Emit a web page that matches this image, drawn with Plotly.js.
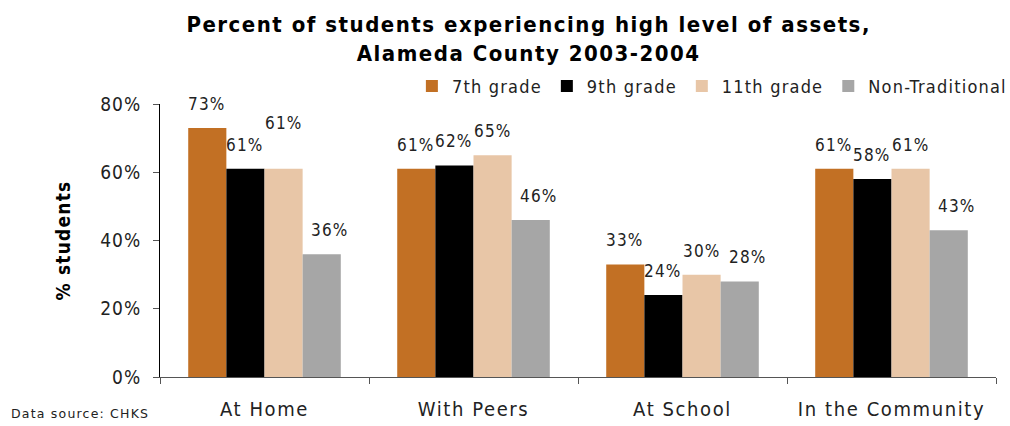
<!DOCTYPE html>
<html>
<head>
<meta charset="utf-8">
<script src="https://cdn.plot.ly/plotly-3.0.1.min.js"></script>
<style>
html,body{margin:0;padding:0;background:#fff;}
#chart{width:1010px;height:426px;}
text.gtitle{letter-spacing:1.5px;}
g.xtick text{letter-spacing:1.6px;}
g.ytick text{letter-spacing:1px;}
text.ytitle{letter-spacing:1.2px;}
text.legendtext{letter-spacing:1.2px;}
text.annotation-text{letter-spacing:1.2px;}
</style>
</head>
<body>
<div id="chart"></div>
<script>
const categories = ["At Home", "With Peers", "At School", "In the Community"];
const seriesNames = ["7th grade", "9th grade", "11th grade", "Non-Traditional"];
const grade7 = [0.73, 0.61, 0.33, 0.61];
const grade9 = [0.61, 0.62, 0.24, 0.58];
const grade11 = [0.61, 0.65, 0.30, 0.61];
const nonTrad = [0.36, 0.46, 0.28, 0.43];
const yTicks = [0, 0.2, 0.4, 0.6, 0.8];
const yTickLabels = ["0%", "20%", "40%", "60%", "80%"];

const colors = ["#C27024", "#000000", "#E8C6A7", "#A6A6A6"];
const FONT = "DejaVu Sans Condensed, Liberation Sans Narrow, sans-serif";
const values = [grade7, grade9, grade11, nonTrad];

const W = 1010, H = 426;
const margin = {l: 160, r: 14, t: 104, b: 49};
const BARGAP = 0.27;
const plotW = W - margin.l - margin.r;
const barPx = plotW / categories.length * (1 - BARGAP) / values.length;

const traces = values.map((v, i) => ({
  type: "bar",
  name: seriesNames[i],
  x: categories,
  y: v,
  marker: {color: colors[i], line: {width: 0}},
  hoverinfo: "skip"
}));

// value labels placed above each bar (Excel-like), raised when they would collide
const labelAnns = [];
values.forEach((v, i) => {
  v.forEach((d, j) => {
    let shift = 12;
    if (i > 0 && Math.abs(values[i - 1][j] - d) < 0.005) shift += 22;
    labelAnns.push({
      xref: "x", yref: "y", x: categories[j], y: d,
      xanchor: "center", yanchor: "bottom",
      xshift: (i - (values.length - 1) / 2) * barPx + (i === 3 ? 8 : 0),
      yshift: shift,
      text: Math.round(d * 100) + "%", showarrow: false,
      font: {family: FONT, size: 17, color: "#222"}
    });
  });
});

const layout = {
  width: W, height: H,
  margin: Object.assign({autoexpand: false}, margin),
  paper_bgcolor: "#fff", plot_bgcolor: "#fff",
  font: {family: FONT, color: "#111"},
  title: {
    text: "<b>Percent of students experiencing high level of assets,<br>Alameda County 2003-2004</b>",
    font: {family: FONT, size: 22, color: "#000"},
    xref: "paper", x: 0.441, xanchor: "center",
    yref: "container", y: 0.925, yanchor: "middle"
  },
  barmode: "group",
  bargap: BARGAP,
  bargroupgap: 0,
  showlegend: true,
  legend: {
    orientation: "h", x: 1.019, xanchor: "right", y: 1.065, yanchor: "middle",
    font: {family: FONT, size: 18, color: "#222"},
    itemwidth: 30, tracegroupgap: 0, traceorder: "normal"
  },
  xaxis: {
    type: "category",
    showline: true, linecolor: "#555", linewidth: 1,
    ticks: "outside", tickson: "boundaries", ticklen: 6, tickcolor: "#555",
    tickfont: {family: FONT, size: 20, color: "#222"},
    ticklabelstandoff: 14,
    showgrid: false, zeroline: false
  },
  yaxis: {
    range: [0, 0.8],
    tickvals: yTicks, ticktext: yTickLabels,
    showline: true, linecolor: "#000", linewidth: 1,
    ticks: "outside", ticklen: 6, tickcolor: "#555",
    tickfont: {family: FONT, size: 19, color: "#222"},
    ticklabelstandoff: 8,
    showgrid: false, zeroline: false,
    title: {text: "<b>% students</b>", font: {family: FONT, size: 19, color: "#000"}, standoff: 24}
  },
  annotations: labelAnns.concat([{
    text: "Data source: CHKS", xref: "paper", yref: "paper",
    x: -0.181, xanchor: "left", y: -0.132, yanchor: "middle", showarrow: false,
    font: {family: "DejaVu Sans, sans-serif", size: 12.5, color: "#222"}
  }])
};

Plotly.newPlot("chart", traces, layout, {displayModeBar: false, staticPlot: true});
</script>
</body>
</html>
